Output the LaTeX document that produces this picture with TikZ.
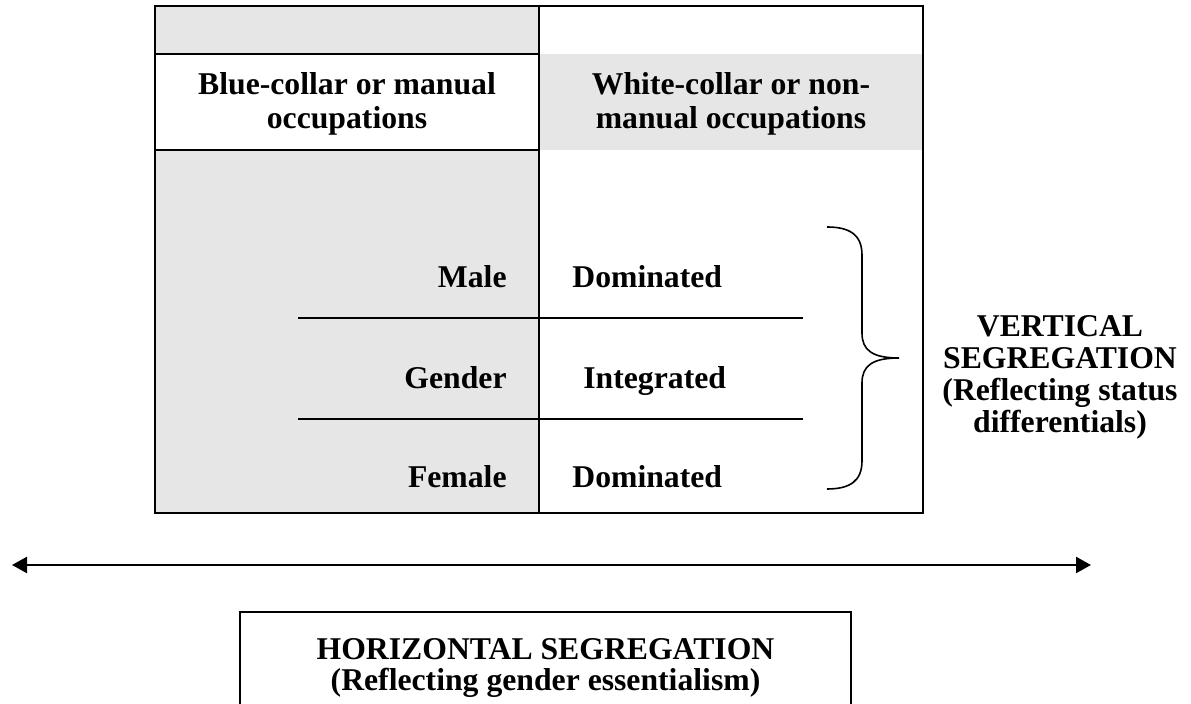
\documentclass[tikz,border=0pt]{standalone}
\usepackage{fontspec}
\setmainfont{Liberation Serif}
\usetikzlibrary{arrows.meta,positioning}
\definecolor{cellgray}{RGB}{230,230,230}

\begin{document}
\begin{tikzpicture}[x=0.5pt,y=-0.5pt,>={Triangle[length=7.5pt,width=8pt]},
    rule/.style={line width=1pt},
    lbl/.style={inner sep=0pt,font=\bfseries\fontsize{15.85}{17}\selectfont},
    side lbl/.style={lbl,align=center,font=\bfseries\fontsize{15.85}{16}\selectfont},
    foot lbl/.style={lbl,align=center,font=\bfseries\fontsize{15.85}{15.5}\selectfont}]

    \useasboundingbox (0,0) rectangle (1191,704);

    % shaded cells
    \fill[cellgray] (155,6) rectangle (539,54);
    \fill[cellgray] (155,150) rectangle (539,513);
    \fill[cellgray] (539,54) rectangle (923,150);

    % table rules
    \draw[rule] (155,6) rectangle (923,513);
    \draw[rule] (539,6) -- (539,513);
    \foreach \y in {54,150}{
        \draw[rule] (155,\y) -- (539,\y);
    }
    \foreach \y [count=\i] in {318,419}{
        \coordinate (row\i w) at (298,\y);
        \coordinate (row\i e) at (803,\y);
        \draw[rule] (row\i w) -- (row\i e);
    }

    % column heads
    \node[lbl,align=center] (blue) at (347,104) {Blue-collar or manual\\occupations};
    \node[lbl,align=center] (white) at (731,104) {White-collar or non-\\manual occupations};

    % rows
    \node[lbl,anchor=base east] (male) at (507,288) {Male};
    \node[lbl,anchor=base east] (gender) at (507,389) {Gender};
    \node[lbl,anchor=base east] (female) at (507,488) {Female};
    \node[lbl,anchor=base west] (dom1) at (572,288) {Dominated};
    \node[lbl,anchor=base west] (integ) at (583,389) {Integrated};
    \node[lbl,anchor=base west] (dom2) at (572,488) {Dominated};

    % brace
    \coordinate (btop) at (827,227);
    \coordinate (btip) at (899,358);
    \coordinate (bbot) at (827,489);
    \draw[line width=0.8pt] (btop) .. controls (850,227) and (862,235) .. (862,255)
        -- (862,333) .. controls (862,350) and (872,358) .. (btip)
        .. controls (872,358) and (862,366) .. (862,383)
        -- (862,461) .. controls (862,481) and (850,489) .. (bbot);
    \node[side lbl] (vert) at (1060,377) {VERTICAL\\SEGREGATION\\(Reflecting status\\differentials)};

    % horizontal arrow
    \coordinate (hl) at (12,565);
    \coordinate (hr) at (1091,565);
    \draw[<->,line width=1.2pt] (hl) -- (hr);

    % bottom box
    \draw[rule] (240,720) -- (240,612) -- (851,612) -- (851,720);
    \node[foot lbl] (horiz) at (545.5,668) {HORIZONTAL SEGREGATION\\(Reflecting gender essentialism)};

\end{tikzpicture}
\end{document}
